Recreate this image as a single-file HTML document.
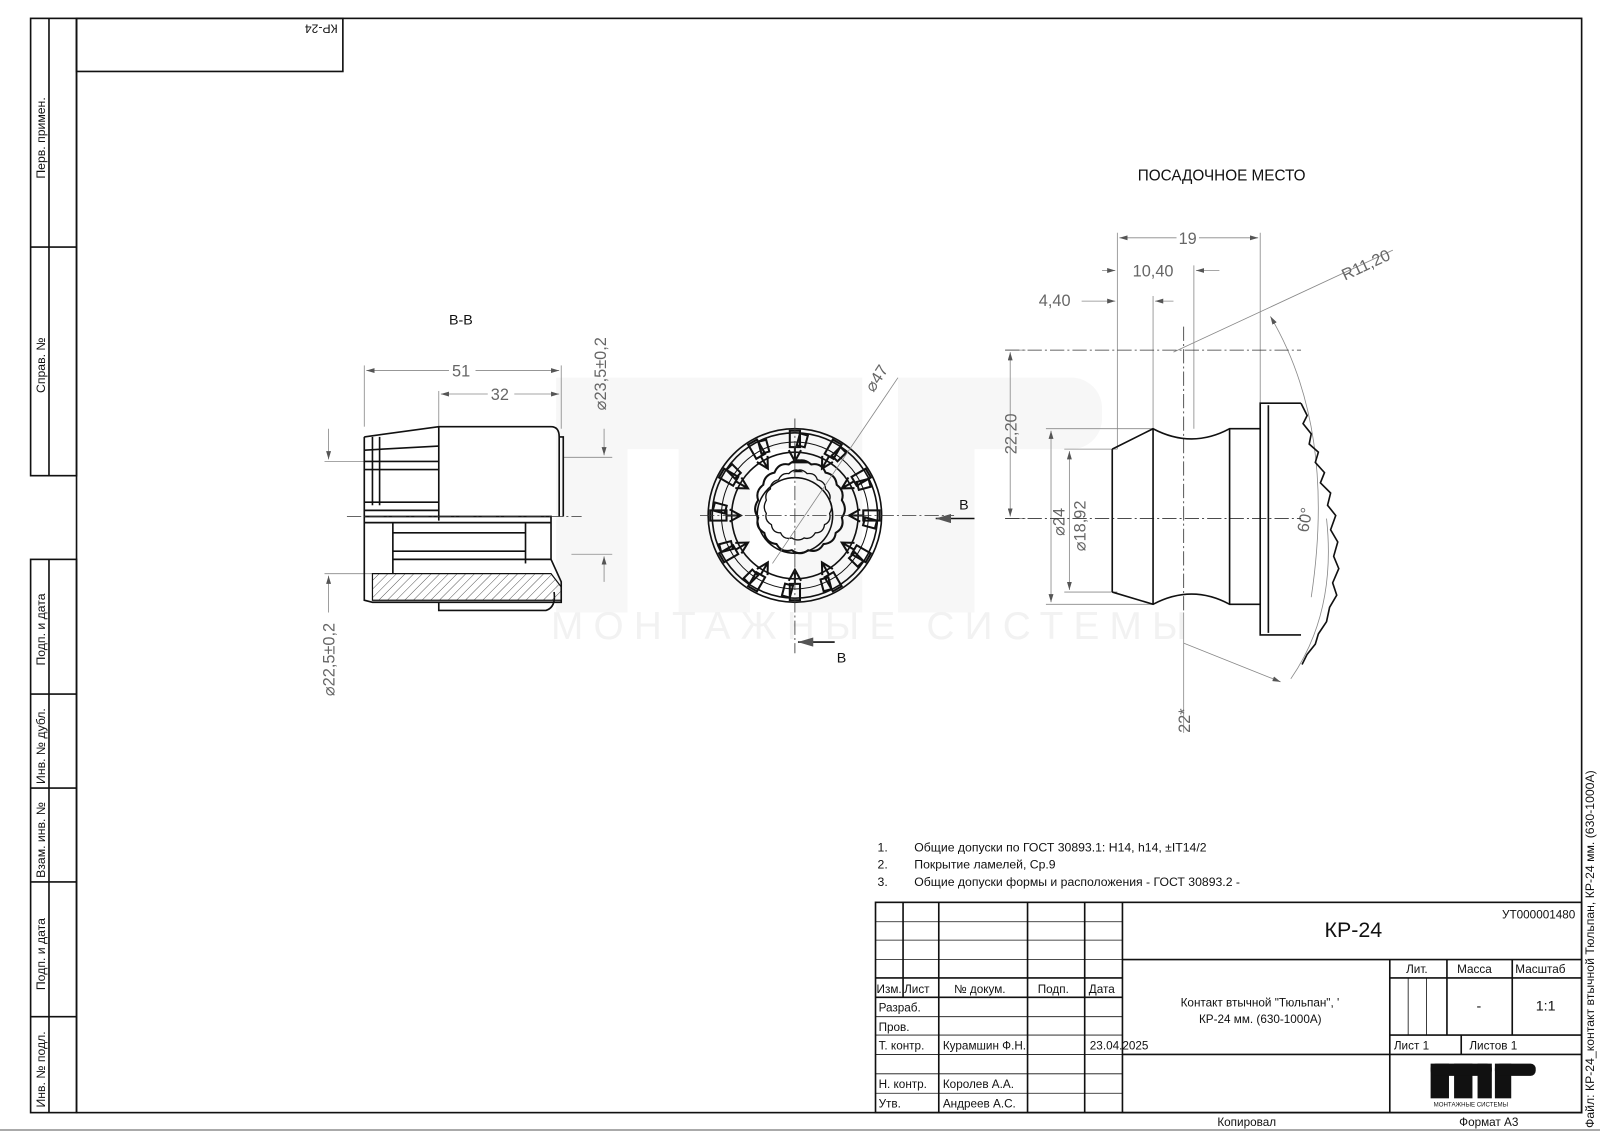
<!DOCTYPE html>
<html><head><meta charset="utf-8"><style>
html,body{margin:0;padding:0;background:#fff;}
svg{display:block;}
text{font-family:"Liberation Sans","DejaVu Sans",sans-serif;fill:#111;}
.t{stroke:#888;stroke-width:0.8;fill:none;}
.k{stroke:#111;stroke-width:1.6;fill:none;}
.d{fill:#666;}
.cl{stroke:#333;stroke-width:0.8;stroke-dasharray:14 3 2 3;fill:none;}
</style></head><body>
<svg width="1600" height="1131" viewBox="0 0 1568 1108" preserveAspectRatio="none" xmlns="http://www.w3.org/2000/svg">
<defs>
<pattern id="h" width="6" height="6" patternUnits="userSpaceOnUse" patternTransform="rotate(45)"><line x1="0" y1="0" x2="0" y2="6" stroke="#333" stroke-width="0.8"/></pattern>
<marker id="a" viewBox="0 0 10 6" refX="10" refY="3" markerWidth="10" markerHeight="6" orient="auto-start-reverse"><path d="M0,0 L10,3 L0,6z" fill="#555"/></marker>
</defs>
<!-- watermark -->
<g fill="#f7f7f7">
<rect x="545" y="370" width="70" height="230"/><rect x="665" y="370" width="70" height="230"/><rect x="545" y="370" width="300" height="70" rx="30"/><rect x="780" y="370" width="65" height="230"/>
<rect x="880" y="370" width="75" height="230"/><rect x="880" y="370" width="200" height="70" rx="30"/>
</g>
<text x="540" y="626" font-size="38" letter-spacing="10" style="fill:#f2f2f2">МОНТАЖНЫЕ СИСТЕМЫ</text>
<!-- frame -->
<g stroke="#111" stroke-width="1.6" fill="none">
<rect x="75" y="18" width="1475" height="1072"/>
<rect x="30" y="18" width="45" height="448"/>
<line x1="48" y1="18" x2="48" y2="466"/>
<line x1="30" y1="242" x2="75" y2="242"/>
<rect x="30" y="548" width="45" height="542"/>
<line x1="48" y1="548" x2="48" y2="1090"/>
<line x1="30" y1="680" x2="75" y2="680"/><line x1="30" y1="772" x2="75" y2="772"/><line x1="30" y1="864" x2="75" y2="864"/><line x1="30" y1="996" x2="75" y2="996"/>
<rect x="75" y="18" width="261" height="52"/>
</g>
<g font-size="12">
<text transform="translate(44,175) rotate(-90)">Перв. примен.</text>
<text transform="translate(44,385) rotate(-90)">Справ. №</text>
<text transform="translate(44,652) rotate(-90)">Подп. и дата</text>
<text transform="translate(44,768) rotate(-90)">Инв. № дубл.</text>
<text transform="translate(44,860) rotate(-90)">Взам. инв. №</text>
<text transform="translate(44,970) rotate(-90)">Подп. и дата</text>
<text transform="translate(44,1085) rotate(-90)">Инв. № подл.</text>
<text transform="translate(331,24) rotate(180)" font-size="12">КР-24</text>
<text transform="translate(1562,1105) rotate(-90)" font-size="12">Файл: КР-24_контакт втычной Тюльпан, КР-24 мм. (630-1000А)</text>
</g>
<!-- B-B view -->
<text x="440" y="318" font-size="14">В-В</text>
<g class="t">
<line x1="357" y1="358" x2="357" y2="418"/><line x1="550" y1="358" x2="550" y2="420"/><line x1="430" y1="383" x2="430" y2="418"/>
<line x1="359" y1="363" x2="548" y2="363" marker-start="url(#a)" marker-end="url(#a)"/>
<line x1="432" y1="386" x2="548" y2="386" marker-start="url(#a)" marker-end="url(#a)"/>
<line x1="552" y1="448" x2="600" y2="448"/><line x1="560" y1="543" x2="600" y2="543"/>
<line x1="592" y1="420" x2="592" y2="446" marker-end="url(#a)"/><line x1="592" y1="570" x2="592" y2="545" marker-end="url(#a)"/>
<line x1="318" y1="452" x2="360" y2="452"/><line x1="318" y1="562" x2="365" y2="562"/>
<line x1="322" y1="420" x2="322" y2="450" marker-end="url(#a)"/><line x1="322" y1="600" x2="322" y2="564" marker-end="url(#a)"/>
</g>
<rect x="440" y="355" width="26" height="16" fill="#fff"/><text x="443" y="369" font-size="16" class="d">51</text>
<rect x="478" y="378" width="26" height="16" fill="#fff"/><text x="481" y="392" font-size="16" class="d">32</text>
<text transform="translate(594,402) rotate(-90)" font-size="16" class="d">⌀23,5±0,2</text>
<text transform="translate(328,682) rotate(-90)" font-size="16" class="d">⌀22,5±0,2</text>
<g class="k">
<path d="M357,428 L430,418 L540,418 Q548,418 548,428 L548,506 M430,418 L430,510 M548,428 L552,428 L552,506"/>
<path d="M357,428 L357,588 L365,590 L550,590 L550,570 L540,548 L540,506 L357,506"/>
<line x1="357" y1="441" x2="430" y2="437"/><line x1="357" y1="452" x2="430" y2="452"/><line x1="357" y1="460" x2="430" y2="460"/>
<line x1="365" y1="428" x2="365" y2="495"/><line x1="372" y1="428" x2="372" y2="495"/>
<line x1="357" y1="492" x2="430" y2="492"/><line x1="357" y1="500" x2="430" y2="500"/>
<line x1="357" y1="512" x2="540" y2="512"/><line x1="385" y1="522" x2="515" y2="522"/><line x1="385" y1="540" x2="515" y2="540"/><line x1="385" y1="548" x2="540" y2="548"/>
<line x1="385" y1="512" x2="385" y2="562"/><line x1="515" y1="512" x2="515" y2="552"/>
<path d="M430,590 L430,598 L535,598 Q545,595 543,580"/>
</g>
<path d="M365,562 L540,562 L550,575 L550,588 L365,588z" fill="url(#h)" stroke="#111" stroke-width="1.2"/>
<line x1="340" y1="506" x2="570" y2="506" class="cl"/>
<!-- circle view -->
<g class="k">
<circle cx="779" cy="505" r="85"/><circle cx="779" cy="505" r="81"/>
<circle cx="779" cy="505" r="72" stroke-width="1"/>
<circle cx="779" cy="505" r="62"/><circle cx="779" cy="505" r="37"/>
</g>
<g stroke="#111" stroke-width="2" fill="none">
<path d="M779,450 q8,-5 16,2 q10,-2 14,8 q10,2 11,12 q8,6 5,15 q6,9 0,17 q3,10 -6,15 q-1,10 -12,11 q-5,9 -15,6 q-8,6 -16,0 q-10,3 -15,-6 q-10,-1 -12,-11 q-9,-5 -6,-15 q-6,-8 0,-17 q-3,-9 5,-15 q1,-10 11,-12 q4,-10 14,-8 q8,-7 16,-2z" transform="translate(0,3)"/>
<path d="M779,462 q6,-4 12,2 q8,-1 10,6 q8,2 8,9 q6,5 4,11 q4,7 0,13 q2,8 -5,11 q-1,8 -9,8 q-4,7 -11,5 q-6,4 -12,0 q-8,2 -11,-5 q-8,0 -9,-8 q-7,-4 -5,-11 q-4,-6 0,-13 q-2,-7 4,-11 q0,-7 8,-9 q3,-7 10,-6 q6,-6 12,-2z" stroke-width="1.3"/>
<g id="sp">
<rect x="774" y="422" width="10" height="16"/><path d="M779,438 L779,452 M773,441 L779,452 L785,441"/>
<rect x="763" y="426" width="8" height="12" transform="rotate(15 779 505)"/>
</g>
<use href="#sp" transform="rotate(30 779 505)"/><use href="#sp" transform="rotate(60 779 505)"/><use href="#sp" transform="rotate(90 779 505)"/>
<use href="#sp" transform="rotate(120 779 505)"/><use href="#sp" transform="rotate(150 779 505)"/><use href="#sp" transform="rotate(180 779 505)"/>
<use href="#sp" transform="rotate(210 779 505)"/><use href="#sp" transform="rotate(240 779 505)"/><use href="#sp" transform="rotate(270 779 505)"/>
<use href="#sp" transform="rotate(300 779 505)"/><use href="#sp" transform="rotate(330 779 505)"/>
</g>
<line x1="686" y1="505" x2="935" y2="505" class="cl"/>
<line x1="779" y1="410" x2="779" y2="640" class="cl"/>
<line x1="880" y1="370" x2="757" y2="552" class="t"/>
<text transform="translate(856,385) rotate(-57)" font-size="16" class="d">⌀47</text>
<path d="M955,508 L917,508" stroke="#111" stroke-width="1.5" marker-end="url(#a)"/>
<text x="940" y="499" font-size="14">В</text>
<path d="M818,629 L782,629" stroke="#111" stroke-width="1.5" marker-end="url(#a)"/>
<text x="820" y="649" font-size="14">В</text>
<!-- right view -->
<text x="1115" y="177" font-size="15">ПОСАДОЧНОЕ МЕСТО</text>
<g class="t">
<line x1="1095" y1="228" x2="1095" y2="440"/><line x1="1235" y1="228" x2="1235" y2="395"/><line x1="1170" y1="260" x2="1170" y2="420"/><line x1="1130" y1="290" x2="1130" y2="420"/>
<line x1="1097" y1="233" x2="1233" y2="233" marker-start="url(#a)" marker-end="url(#a)"/>
<line x1="1080" y1="265" x2="1093" y2="265" marker-end="url(#a)"/><line x1="1195" y1="265" x2="1172" y2="265" marker-end="url(#a)"/>
<line x1="1060" y1="295" x2="1093" y2="295" marker-end="url(#a)"/><line x1="1150" y1="295" x2="1132" y2="295" marker-end="url(#a)"/>
<line x1="985" y1="343" x2="1005" y2="343"/><line x1="985" y1="508" x2="1005" y2="508"/>
<line x1="990" y1="345" x2="990" y2="506" marker-start="url(#a)" marker-end="url(#a)"/>
<line x1="1025" y1="420" x2="1130" y2="420"/><line x1="1025" y1="592" x2="1130" y2="592"/>
<line x1="1030" y1="422" x2="1030" y2="590" marker-start="url(#a)" marker-end="url(#a)"/>
<line x1="1043" y1="440" x2="1095" y2="440"/><line x1="1043" y1="580" x2="1095" y2="580"/>
<line x1="1048" y1="442" x2="1048" y2="578" marker-start="url(#a)" marker-end="url(#a)"/>
<line x1="1150" y1="345" x2="1365" y2="245"/>
<path d="M1245,310 Q1310,420 1285,585" marker-start="url(#a)"/>
<line x1="1160" y1="600" x2="1160" y2="718"/>
<line x1="1160" y1="630" x2="1255" y2="668" marker-end="url(#a)"/>
<path d="M1265,665 Q1310,600 1300,508"/>
</g>
<rect x="1153" y="224" width="22" height="16" fill="#fff"/><text x="1155" y="239" font-size="16" class="d">19</text>
<text x="1110" y="271" font-size="16" class="d">10,40</text>
<text x="1018" y="300" font-size="16" class="d">4,40</text>
<text transform="translate(1318,275) rotate(-25)" font-size="16" class="d">R11,20</text>
<text transform="translate(996,445) rotate(-90)" font-size="16" class="d">22,20</text>
<text transform="translate(1043,525) rotate(-90)" font-size="16" class="d">⌀24</text>
<text transform="translate(1064,540) rotate(-90)" font-size="16" class="d">⌀18,92</text>
<text transform="translate(1282,522) rotate(-80)" font-size="16" class="d">60°</text>
<text transform="translate(1166,718) rotate(-90)" font-size="16" class="d">22*</text>
<line x1="985" y1="343" x2="1275" y2="343" class="cl"/>
<line x1="985" y1="508" x2="1275" y2="508" class="cl"/>
<line x1="1160" y1="320" x2="1160" y2="600" class="cl"/>
<g class="k">
<path d="M1090,440 L1130,420 Q1168,440 1205,420 L1235,420 L1235,395 L1275,395"/>
<path d="M1090,580 L1130,592 Q1168,572 1205,592 L1235,592 L1235,622 L1275,622"/>
<line x1="1090" y1="440" x2="1090" y2="580"/>
<line x1="1130" y1="420" x2="1130" y2="592"/><line x1="1205" y1="420" x2="1205" y2="592"/><line x1="1235" y1="420" x2="1235" y2="592"/><line x1="1243" y1="397" x2="1243" y2="620"/>
<path d="M1275,395 l6,12 -4,8 8,10 -2,10 9,8 -3,10 9,10 -4,10 10,10 -3,12 8,10 -5,14 7,12 -4,14 5,12 -6,14 4,12 -7,12 -3,14 -8,12 -3,10 -8,10 -5,10"/>
</g>
<!-- notes -->
<g font-size="12">
<text x="860" y="834">1.</text><text x="896" y="834">Общие допуски по ГОСТ 30893.1: H14, h14, ±IT14/2</text>
<text x="860" y="851">2.</text><text x="896" y="851">Покрытие ламелей, Ср.9</text>
<text x="860" y="868">3.</text><text x="896" y="868">Общие допуски формы и расположения - ГОСТ 30893.2 -</text>
</g>
<!-- title block -->
<g stroke="#111" stroke-width="1.6" fill="none">
<rect x="858" y="884" width="692" height="206"/>
<line x1="1100" y1="884" x2="1100" y2="1090"/>
<line x1="885" y1="884" x2="885" y2="977"/><line x1="920" y1="884" x2="920" y2="1090"/><line x1="1007" y1="884" x2="1007" y2="1090"/><line x1="1063" y1="884" x2="1063" y2="1090"/>
<line x1="858" y1="958" x2="1100" y2="958"/><line x1="858" y1="977" x2="1100" y2="977"/>
<line x1="1100" y1="940" x2="1550" y2="940"/>
<line x1="1362" y1="940" x2="1362" y2="1090"/><line x1="1418" y1="940" x2="1418" y2="1014"/><line x1="1482" y1="940" x2="1482" y2="1014"/>
<line x1="1362" y1="958" x2="1550" y2="958"/><line x1="1362" y1="1014" x2="1550" y2="1014"/><line x1="1362" y1="1033" x2="1550" y2="1033"/>
<line x1="1100" y1="1033" x2="1362" y2="1033"/><line x1="1432" y1="1014" x2="1432" y2="1033"/>
</g>
<g stroke="#111" stroke-width="0.8" fill="none">
<line x1="858" y1="903" x2="1100" y2="903"/><line x1="858" y1="921" x2="1100" y2="921"/><line x1="858" y1="940" x2="1100" y2="940"/>
<line x1="858" y1="996" x2="1100" y2="996"/><line x1="858" y1="1014" x2="1100" y2="1014"/><line x1="858" y1="1033" x2="1100" y2="1033"/><line x1="858" y1="1052" x2="1100" y2="1052"/><line x1="858" y1="1071" x2="1100" y2="1071"/>
<line x1="1380" y1="958" x2="1380" y2="1014"/><line x1="1398" y1="958" x2="1398" y2="1014"/>
</g>
<g font-size="11.5">
<text x="859" y="973">Изм.</text><text x="886" y="973">Лист</text><text x="935" y="973">№ докум.</text><text x="1017" y="973">Подп.</text><text x="1067" y="973">Дата</text>
<text x="861" y="991">Разраб.</text><text x="861" y="1010">Пров.</text><text x="861" y="1028">Т. контр.</text>
<text x="924" y="1028">Курамшин Ф.Н.</text><text x="1068" y="1028">23.04.2025</text>
<text x="861" y="1066">Н. контр.</text><text x="924" y="1066">Королев А.А.</text>
<text x="861" y="1085">Утв.</text><text x="924" y="1085">Андреев А.С.</text>
<text x="1157" y="986">Контакт втычной "Тюльпан", '</text><text x="1175" y="1002">КР-24 мм. (630-1000А)</text>
<text x="1378" y="953">Лит.</text><text x="1428" y="953">Масса</text><text x="1485" y="953">Масштаб</text>
<text x="1447" y="990" font-size="14">-</text><text x="1505" y="990" font-size="14">1:1</text>
<text x="1366" y="1028">Лист 1</text><text x="1440" y="1028">Листов 1</text>
<text x="1472" y="900">УТ000001480</text>
<text x="1193" y="1103">Копировал</text><text x="1430" y="1103">Формат А3</text>
</g>
<text x="1298" y="918" font-size="21">КР-24</text>
<g fill="#111">
<rect x="1402" y="1042" width="18" height="34"/><rect x="1425" y="1042" width="18" height="34"/><rect x="1402" y="1042" width="60" height="12" rx="5"/><rect x="1448" y="1042" width="14" height="34"/>
<rect x="1465" y="1042" width="16" height="34"/><rect x="1465" y="1042" width="40" height="12" rx="5"/>
</g>
<text x="1405" y="1084" font-size="6">МОНТАЖНЫЕ СИСТЕМЫ</text>
<line x1="0" y1="1107" x2="1568" y2="1107" stroke="#555" stroke-width="1"/>
</svg>
</body></html>
